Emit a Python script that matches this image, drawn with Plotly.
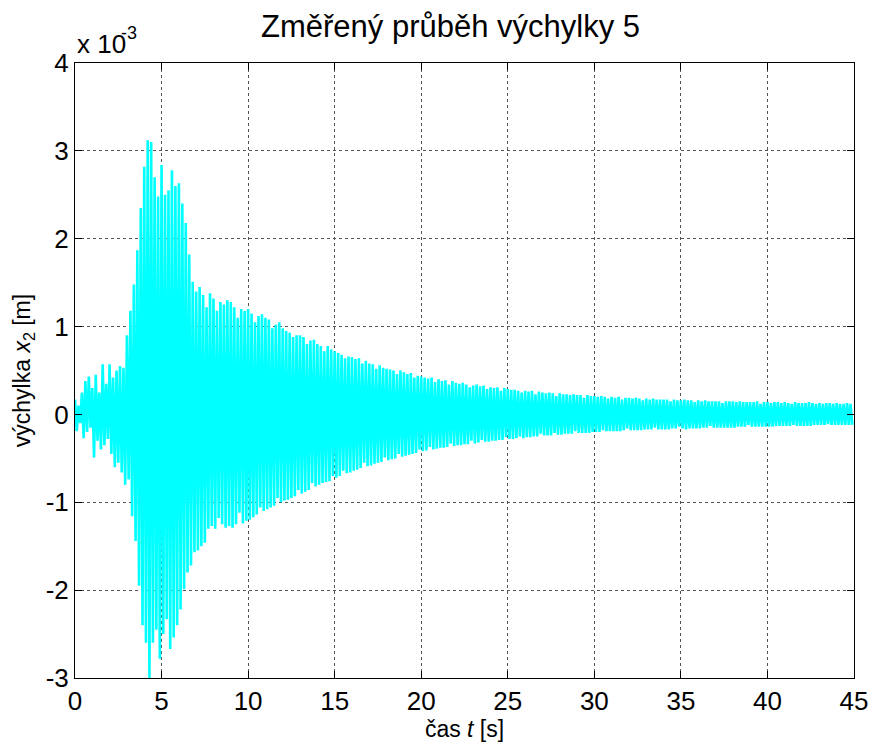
import plotly.graph_objects as go

# Peak values, in units of 1e-3 m.
# Upper peaks: five per second, at t = s + 0.0, 0.2, 0.4, 0.6, 0.8
upper_peaks = [
    0.17, 0.10, 0.25, 0.38, 0.43,
    0.30, 0.45, 0.25, 0.57, 0.35,
    0.57, 0.42, 0.50, 0.55, 0.53,
    0.90, 1.18, 1.48, 1.87, 2.35,
    2.82, 3.12, 3.10, 2.70, 2.48,
    2.84, 2.50, 2.55, 2.78, 2.60,
    2.63, 2.40, 2.18, 1.82, 1.51,
    1.40, 1.45, 1.36, 1.22, 1.38,
    1.32, 1.18, 1.28, 1.25, 1.30,
    1.28, 1.22, 1.10, 1.20, 1.18,
    1.20, 1.15, 1.05, 1.12, 1.14,
    1.10, 1.08, 0.98, 1.02, 1.05,
    0.98, 0.95, 0.93, 0.88, 0.90,
    0.90, 0.88, 0.80, 0.84, 0.85,
    0.80, 0.78, 0.72, 0.78, 0.74,
    0.72, 0.70, 0.68, 0.64, 0.66,
    0.65, 0.63, 0.64, 0.58, 0.61,
    0.58, 0.57, 0.52, 0.56, 0.53,
    0.52, 0.51, 0.50, 0.46, 0.50,
    0.48, 0.46, 0.47, 0.42, 0.44,
    0.43, 0.42, 0.41, 0.42, 0.37,
    0.40, 0.38, 0.39, 0.34, 0.38,
    0.36, 0.35, 0.36, 0.34, 0.31,
    0.33, 0.34, 0.32, 0.33, 0.29,
    0.31, 0.30, 0.31, 0.27, 0.30,
    0.29, 0.28, 0.28, 0.27, 0.25,
    0.27, 0.26, 0.27, 0.23, 0.26,
    0.25, 0.24, 0.25, 0.24, 0.21,
    0.24, 0.23, 0.23, 0.22, 0.23,
    0.22, 0.22, 0.19, 0.22, 0.21,
    0.21, 0.20, 0.21, 0.20, 0.18,
    0.20, 0.19, 0.20, 0.17, 0.19,
    0.19, 0.18, 0.19, 0.18, 0.16,
    0.18, 0.17, 0.18, 0.17, 0.17,
    0.17, 0.17, 0.15, 0.17, 0.16,
    0.16, 0.17, 0.16, 0.16, 0.14,
    0.16, 0.15, 0.16, 0.15, 0.15,
    0.15, 0.15, 0.13, 0.15, 0.15,
    0.15, 0.14, 0.15, 0.14, 0.14,
    0.14, 0.14, 0.15, 0.12, 0.14,
    0.14, 0.13, 0.14, 0.14, 0.13,
    0.14, 0.13, 0.12, 0.14, 0.13,
    0.13, 0.13, 0.14, 0.13, 0.12,
    0.13, 0.12, 0.13, 0.13, 0.12,
    0.13, 0.12, 0.12, 0.13, 0.12,
]

# Lower peaks: five per second, at t = s + 0.1, 0.3, 0.5, 0.7, 0.9
lower_peaks = [
    -0.19, -0.10, -0.27, -0.20, -0.15,
    -0.49, -0.30, -0.40, -0.35, -0.28,
    -0.45, -0.60, -0.55, -0.66, -0.80,
    -0.74, -1.16, -1.44, -1.95, -2.40,
    -2.60, -3.00, -2.60, -2.45, -2.78,
    -2.50, -2.33, -2.67, -2.54, -2.40,
    -2.22, -1.99, -1.80, -1.72, -1.57,
    -1.55, -1.50, -1.46, -1.30, -1.27,
    -1.30, -1.18, -1.25, -1.29, -1.27,
    -1.29, -1.25, -1.12, -1.24, -1.21,
    -1.20, -1.17, -1.14, -1.06, -1.10,
    -1.08, -1.06, -1.04, -0.95, -1.00,
    -0.98, -0.97, -0.95, -0.93, -0.86,
    -0.90, -0.88, -0.86, -0.78, -0.82,
    -0.80, -0.78, -0.77, -0.76, -0.70,
    -0.72, -0.70, -0.64, -0.67, -0.66,
    -0.64, -0.63, -0.61, -0.55, -0.59,
    -0.58, -0.56, -0.55, -0.54, -0.49,
    -0.52, -0.51, -0.50, -0.45, -0.48,
    -0.47, -0.46, -0.45, -0.44, -0.40,
    -0.42, -0.41, -0.37, -0.40, -0.39,
    -0.38, -0.38, -0.37, -0.33, -0.36,
    -0.35, -0.35, -0.34, -0.34, -0.30,
    -0.33, -0.32, -0.29, -0.31, -0.31,
    -0.30, -0.30, -0.29, -0.29, -0.26,
    -0.28, -0.28, -0.27, -0.25, -0.27,
    -0.26, -0.26, -0.25, -0.25, -0.22,
    -0.24, -0.24, -0.24, -0.21, -0.23,
    -0.23, -0.22, -0.22, -0.22, -0.19,
    -0.21, -0.21, -0.21, -0.21, -0.20,
    -0.20, -0.20, -0.18, -0.19, -0.19,
    -0.19, -0.19, -0.19, -0.18, -0.16,
    -0.18, -0.18, -0.18, -0.18, -0.17,
    -0.17, -0.17, -0.15, -0.17, -0.17,
    -0.17, -0.17, -0.16, -0.16, -0.14,
    -0.16, -0.17, -0.16, -0.16, -0.16,
    -0.16, -0.15, -0.15, -0.13, -0.15,
    -0.15, -0.15, -0.15, -0.15, -0.15,
    -0.15, -0.14, -0.14, -0.14, -0.12,
    -0.14, -0.14, -0.14, -0.14, -0.14,
    -0.14, -0.14, -0.13, -0.13, -0.13,
    -0.13, -0.13, -0.12, -0.13, -0.13,
    -0.13, -0.13, -0.13, -0.12, -0.12,
    -0.12, -0.12, -0.11, -0.12, -0.12,
    -0.12, -0.12, -0.12, -0.12, -0.12,
]

peaks_per_second = 5
t_end = 45

# interleave upper and lower peaks in time order
t_vals = []
x_vals = []
for k in range(len(upper_peaks)):
    t0 = k / peaks_per_second
    t_vals.append(t0)
    x_vals.append(upper_peaks[k])
    t_vals.append(t0 + 0.5 / peaks_per_second)
    x_vals.append(lower_peaks[k])

x_ticks = [0, 5, 10, 15, 20, 25, 30, 35, 40, 45]
y_ticks = [-3, -2, -1, 0, 1, 2, 3, 4]

FONT = "Liberation Sans, Arial, sans-serif"

fig = go.Figure()
fig.add_trace(go.Scatter(
    x=t_vals, y=x_vals, mode="lines",
    line=dict(color="#00FFFF", width=2.6),
    showlegend=False, hoverinfo="skip",
))

axis_common = dict(
    showline=True, linecolor="black", linewidth=1, mirror="ticks",
    ticks="inside", ticklen=7, tickcolor="black", tickwidth=1,
    showgrid=True, gridcolor="#555555", griddash="dot", gridwidth=1,
    zeroline=False,
    tickfont=dict(family=FONT, size=26, color="black"),
)

fig.update_layout(
    width=880, height=744,
    margin=dict(l=75, r=22, t=63, b=65),
    paper_bgcolor="white", plot_bgcolor="white",
    title=dict(
        text="Změřený průběh výchylky 5",
        x=0.512, xanchor="center", y=0.965, yanchor="middle",
        font=dict(family=FONT, size=31, color="black"),
    ),
    xaxis=dict(
        range=[0, t_end], tickvals=x_ticks, ticktext=[str(v) for v in x_ticks],
        title=dict(text="čas <i>t</i> [s]", font=dict(family=FONT, size=23, color="black"), standoff=0),
        **axis_common,
    ),
    yaxis=dict(
        range=[-3, 4], tickvals=y_ticks, ticktext=[str(v) for v in y_ticks],
        title=dict(text="výchylka <i>x</i><sub>2</sub> [m]", font=dict(family=FONT, size=23, color="black"), standoff=8),
        ticklabelstandoff=0,
        **axis_common,
    ),
    annotations=[
        dict(text="x 10", xref="paper", yref="paper", x=0.0, y=1.0,
             xanchor="left", yanchor="bottom", yshift=2, showarrow=False,
             font=dict(family=FONT, size=26, color="black")),
        dict(text="-3", xref="paper", yref="paper", x=0.0, y=1.0,
             xanchor="left", yanchor="bottom", xshift=44, yshift=18, showarrow=False,
             font=dict(family=FONT, size=18, color="black")),
    ],
)

fig.write_html("out.html")
